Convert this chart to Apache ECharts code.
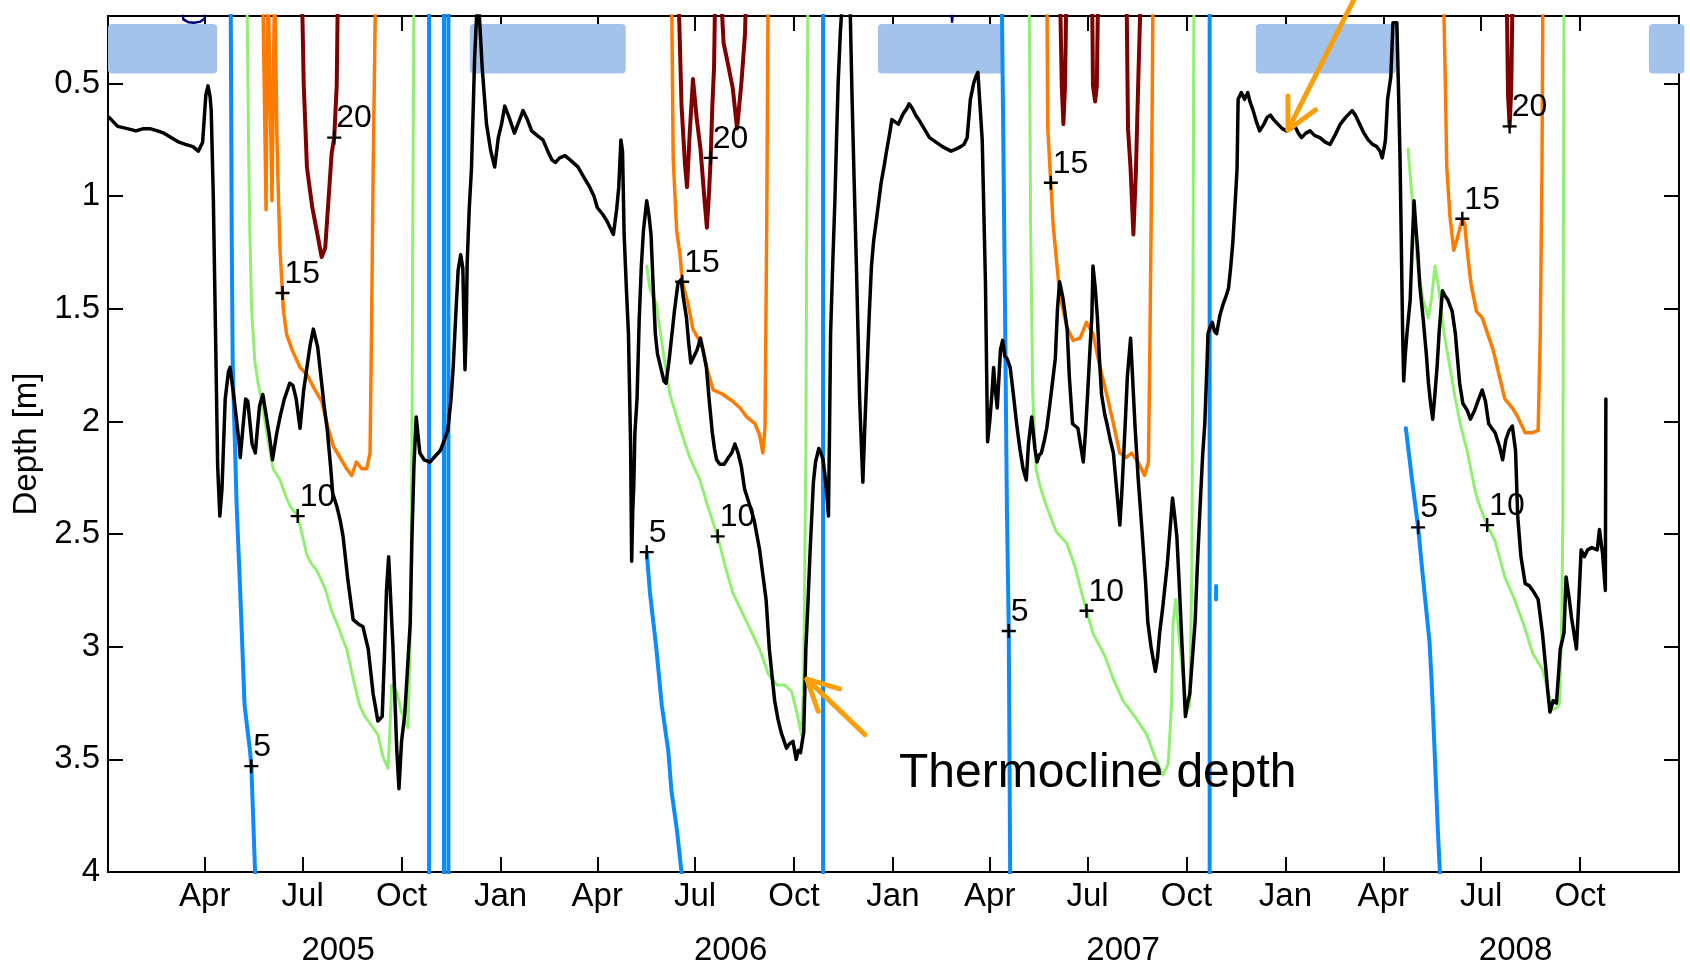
<!DOCTYPE html>
<html>
<head>
<meta charset="utf-8">
<script src="https://cdn.jsdelivr.net/npm/echarts@6/dist/echarts.min.js"></script>
<style>
  html, body { margin: 0; padding: 0; background: #fff; }
  #chart { width: 1690px; height: 973px; }
</style>
</head>
<body>
<div id="chart"></div>
<script>
// Time is counted in days since 1 Jan 2005; depth in metres (positive down).
const ORIGIN = Date.UTC(2005, 0, 1);
const DAY = 86400000;
const dayOf = s => (Date.parse(s + 'T00:00:00Z') - ORIGIN) / DAY;

const MONTH_NAMES = ['Jan','Feb','Mar','Apr','May','Jun','Jul','Aug','Sep','Oct','Nov','Dec'];
const monthTickDates = [
  '2005-04-01','2005-07-01','2005-10-01','2006-01-01',
  '2006-04-01','2006-07-01','2006-10-01','2007-01-01',
  '2007-04-01','2007-07-01','2007-10-01','2008-01-01',
  '2008-04-01','2008-07-01','2008-10-01'
];
const yearLabelDates = ['2005-08-03','2006-08-03','2007-08-03','2008-08-02'];
const depthTicks = [0.5, 1, 1.5, 2, 2.5, 3, 3.5, 4];

// Ice-covered periods [start day, end day], drawn as a band near the surface
const iceCover = [[0, 101.5], [336.5, 481.5], [716, 833], [1067.5, 1198], [1433, 1466]];
const ICE_TOP = 0.235, ICE_BOTTOM = 0.455;

// Thermocline depth [day, depth]
const thermocline = [
  [1,0.65],[9,0.69],[18,0.70],[26,0.71],[33,0.70],[39,0.70],[46,0.71],[52,0.72],[59,0.74],[66,0.76],[72,0.77],[79,0.78],[84,0.80],[88,0.76],[90,0.62],[91,0.55],[93,0.51],[95,0.56],[96,0.62],[98,1.02],[100,1.61],[102,2.20],[104,2.42],[106,2.30],[109,1.90],[112,1.78],[113.5,1.76],[116,1.85],[119,1.97],[122,2.10],[123,2.16],[126,2.00],[128,1.90],[130,1.91],[134,2.10],[137,2.14],[139,2.03],[141,1.93],[144,1.88],[147,1.97],[150,2.06],[153,2.17],[157,2.05],[160,1.98],[164,1.90],[169,1.83],[172,1.84],[175,1.90],[178.6,2.03],[182,1.86],[185,1.76],[188,1.66],[191,1.59],[195,1.67],[198,1.80],[201,1.93],[204,2.04],[207,2.20],[209,2.32],[213,2.38],[216,2.44],[218.6,2.51],[223,2.70],[228,2.88],[233,2.90],[237,2.91],[242,3.01],[246.6,3.21],[251,3.33],[255,3.31],[257,3.05],[259,2.75],[261,2.60],[263,2.80],[265,3.00],[268.6,3.46],[270.6,3.63],[273,3.42],[276,3.30],[278,3.14],[281,2.90],[282.7,2.51],[284.5,2.20],[286.6,1.98],[290,2.14],[294,2.17],[299.5,2.18],[305,2.15],[309,2.13],[313,2.08],[316,2.04],[319,1.90],[321,1.76],[323.5,1.52],[325.6,1.33],[328,1.26],[330,1.32],[331,1.55],[332,1.77],[333,1.62],[334,1.30],[336,1.05],[338,0.88],[340,0.55],[341,0.38],[343,0.18],[345,0.17],[348,0.43],[352,0.68],[356,0.80],[359.6,0.87],[363,0.74],[366,0.68],[369,0.60],[373,0.65],[378,0.72],[382,0.67],[386,0.62],[390,0.66],[394,0.71],[399,0.73],[404.5,0.75],[409,0.80],[413,0.84],[416,0.85],[420,0.83],[425,0.82],[430,0.84],[437,0.87],[443,0.92],[448,0.96],[452,1.00],[455,1.05],[460,1.08],[464,1.11],[468,1.15],[470,1.17],[473,1.06],[475,0.96],[477,0.75],[478.5,0.80],[480,1.17],[482,1.40],[484,1.61],[486,2.10],[487,2.62],[488,2.40],[489,2.28],[490,2.05],[492,1.90],[494,1.55],[496,1.31],[498,1.15],[501,1.02],[503,1.08],[505,1.17],[507,1.40],[509,1.61],[511,1.70],[514,1.76],[517,1.82],[519,1.83],[522,1.72],[524.5,1.61],[527,1.50],[530,1.39],[533,1.37],[535,1.45],[538,1.54],[540,1.65],[542,1.74],[545,1.71],[548,1.68],[551,1.63],[554,1.70],[556.5,1.76],[559,1.90],[562,2.05],[564,2.12],[566,2.17],[569,2.19],[573,2.19],[577,2.16],[580,2.14],[583,2.10],[586,2.14],[589,2.20],[592,2.30],[596,2.36],[601,2.44],[606,2.57],[609,2.68],[612,2.79],[615,3.01],[618,3.15],[620,3.24],[623,3.32],[626,3.38],[631,3.45],[634,3.43],[637,3.42],[640,3.50],[642,3.46],[644,3.47],[647,3.38],[648,3.20],[649,3.01],[651,2.80],[653,2.57],[656,2.27],[658,2.18],[661,2.12],[663,2.14],[665,2.17],[667,2.25],[669,2.35],[670,2.42],[671,2.05],[672,1.61],[674,1.30],[676,1.02],[677.5,0.75],[679,0.50],[681,0.28],[683,0.12],[690,0.12],[692,0.57],[694,0.95],[696,1.31],[699,1.90],[701,2.15],[702,2.27],[704,2.00],[706,1.76],[708,1.52],[710,1.31],[712,1.20],[715,1.09],[719,0.94],[722,0.86],[724,0.80],[727,0.72],[729,0.66],[732,0.67],[735,0.68],[738,0.65],[740,0.63],[743,0.61],[745,0.59],[748,0.61],[751,0.64],[754,0.66],[759,0.70],[764,0.74],[770,0.76],[776,0.78],[780,0.79],[784,0.80],[789,0.79],[793,0.78],[796,0.77],[799,0.74],[802,0.57],[805,0.50],[807,0.47],[809,0.45],[811,0.60],[813,0.75],[815,1.17],[816,1.38],[818,2.09],[820,2.00],[822,1.88],[823.6,1.76],[825,1.85],[827,1.94],[830,1.68],[832,1.64],[834,1.71],[836,1.72],[839,1.76],[842,1.88],[845,2.01],[848,2.12],[851,2.21],[854,2.26],[856,2.10],[859,1.98],[862,2.12],[864,2.18],[866,2.15],[868,2.14],[871,2.08],[873,2.03],[876,1.92],[879,1.80],[881,1.72],[883,1.50],[885,1.38],[888,1.45],[892,1.59],[894,1.80],[897,2.01],[902,2.03],[905,2.12],[907,2.18],[909,2.05],[911,1.88],[913,1.70],[915,1.53],[916,1.31],[918,1.40],[920,1.53],[922,1.72],[924,1.88],[927,1.97],[929,2.01],[932,2.08],[935,2.14],[938,2.30],[941,2.46],[943,2.30],[946,2.01],[948,1.80],[951,1.63],[953,1.82],[955,2.01],[958,2.25],[962,2.51],[965,2.72],[967,2.89],[970,3.00],[974,3.11],[976,3.05],[978,2.94],[981,2.82],[985,2.64],[988,2.46],[990,2.34],[992,2.42],[994,2.51],[996,2.70],[999,3.01],[1002,3.31],[1004,3.25],[1006,3.21],[1008,3.08],[1011,2.89],[1013,2.65],[1015.6,2.38],[1018,2.15],[1020,2.01],[1022,1.75],[1023,1.61],[1025,1.58],[1027,1.56],[1029,1.60],[1031,1.61],[1034,1.53],[1037,1.48],[1040,1.44],[1042,1.41],[1044,1.32],[1046,1.21],[1048,1.05],[1050,0.88],[1051,0.57],[1053,0.55],[1054,0.54],[1057,0.57],[1060,0.54],[1062,0.58],[1065,0.62],[1068,0.67],[1071,0.71],[1075,0.68],[1078,0.65],[1081,0.64],[1084,0.66],[1088,0.68],[1092,0.70],[1096,0.71],[1100,0.70],[1104,0.69],[1107,0.72],[1110,0.74],[1114,0.72],[1118,0.71],[1122,0.73],[1127,0.74],[1132,0.76],[1136.5,0.77],[1141,0.73],[1146,0.68],[1151,0.65],[1157,0.62],[1160,0.64],[1164,0.68],[1168,0.72],[1172,0.75],[1176,0.77],[1180,0.78],[1183,0.80],[1185,0.83],[1187,0.78],[1188,0.75],[1190,0.57],[1193,0.47],[1195,0.23],[1198.6,0.23],[1200,0.50],[1201.6,0.84],[1202.6,1.16],[1204,1.61],[1205,1.82],[1206.5,1.70],[1208,1.61],[1211,1.46],[1213,1.20],[1214.6,1.02],[1216,1.12],[1218,1.24],[1220,1.40],[1223,1.54],[1226,1.70],[1228,1.83],[1230,1.92],[1232,1.99],[1234,1.88],[1236,1.76],[1238,1.60],[1241,1.42],[1243,1.44],[1246,1.46],[1250,1.51],[1253,1.61],[1255,1.72],[1257,1.83],[1260,1.92],[1264,1.95],[1267,1.99],[1271,1.95],[1274,1.91],[1278,1.86],[1281,1.91],[1284,2.01],[1287,2.03],[1290,2.05],[1294,2.11],[1297,2.17],[1300,2.08],[1303,2.04],[1306,2.02],[1309,2.13],[1311,2.42],[1314,2.60],[1318,2.72],[1322,2.73],[1325,2.75],[1330,2.79],[1334,2.94],[1337,3.09],[1339,3.20],[1341,3.29],[1344,3.24],[1347,3.25],[1349,3.12],[1350.6,3.01],[1354,2.94],[1356,2.69],[1359,2.79],[1361,2.87],[1364,2.96],[1365.6,3.01],[1368,2.78],[1370,2.57],[1373,2.60],[1376,2.57],[1380,2.56],[1385,2.57],[1387,2.48],[1390,2.59],[1392.5,2.75],[1393,1.90]
];

// Isotherm depths [day, depth]; 0 = reaches the surface, 4.5 = below the deepest sensor; null = gap
const isotherm5 = [
  [114,0],[115,1.13],[116,1.76],[119.7,2.38],[123,2.76],[127,3.26],[132,3.46],[133.3,3.53],[137,4.03],[138,4.5],
  [298.6,4.5],[298.6,0],[312.5,0],[312.5,4.5],[316.6,4.5],[316.6,0],
  null,
  [501,2.58],[504,2.76],[510,3.01],[515,3.26],[521,3.46],[524,3.64],[529,3.81],[534,4.03],[535,4.5],
  [665,4.5],[665,0],[831,0],[834,1.4],[836,2.4],[837.7,2.93],[839,4.0],[839.5,4.5],
  [1024.5,4.5],[1024.5,0],
  null,
  [1030.5,2.73],[1030.5,2.79],
  null,
  [1207,2.03],[1213,2.27],[1218.4,2.47],[1222,2.65],[1225.6,2.82],[1229,2.98],[1231,3.16],[1233,3.38],[1235,3.61],[1236.6,3.80],[1238.6,4.0],[1239,4.5]
];
const isotherm10 = [
  [129,0],[131,0.88],[132,1.18],[133.6,1.51],[136.7,1.74],[140,1.84],[143,1.91],[149,2.09],[153.6,2.21],[160,2.26],[166,2.34],[170,2.38],[176.4,2.42],[181,2.51],[184.8,2.59],[189,2.63],[194,2.66],[201.8,2.74],[208,2.84],[214,2.91],[222,3.01],[228,3.14],[234,3.26],[239,3.31],[243.7,3.34],[251,3.39],[255.8,3.49],[260.5,3.54],[262,3.39],[263.8,3.17],[268.5,3.20],[273,3.29],[279,3.36],[281.5,2.89],[282.7,2.01],[283.7,0.88],[284.6,0],
  null,
  [501,1.31],[504,1.41],[510,1.48],[516,1.68],[522.6,1.88],[532,2.03],[541,2.16],[550.6,2.26],[558,2.38],[567,2.51],[573.8,2.64],[581,2.76],[594,2.89],[606,3.01],[614,3.12],[622,3.17],[629.6,3.17],[636,3.20],[640.5,3.29],[645,3.39],[647,3.14],[649,2.14],[650,0.88],[651,0],
  [856.6,0],[858,1.13],[860,1.88],[863,2.21],[867,2.29],[873,2.38],[882,2.49],[891.6,2.54],[899,2.64],[905.5,2.76],[910,2.84],[916,2.94],[927,3.04],[934.7,3.14],[944,3.24],[955,3.31],[966,3.39],[973.7,3.49],[981,3.57],[986,3.52],[989,3.26],[990.5,2.89],[993,2.79],[996,2.95],[1000,3.14],[1003,3.29],[1006,3.26],[1008,2.64],[1009,1.38],[1010,0],
  null,
  [1209,0.79],[1213,1.02],[1218,1.31],[1223,1.46],[1228,1.54],[1231,1.45],[1234,1.31],[1237,1.39],[1242.6,1.61],[1248,1.76],[1253,1.90],[1258,2.02],[1264,2.13],[1269,2.25],[1272,2.32],[1276,2.38],[1282.6,2.46],[1290,2.53],[1299,2.69],[1308,2.79],[1316.5,2.90],[1325,3.03],[1334,3.10],[1339,3.19],[1342.5,3.28],[1347.6,3.27],[1350,3.25],[1352,2.87],[1353,2.42],[1354,0]
];
const isotherm15 = [
  [143.7,0],[147,1.06],[148.7,0],[150.5,0],[152.5,1.02],[155,0],[156.5,0],[157,0.72],[158.6,1.02],[160,1.24],[162.3,1.43],[163,1.50],[166,1.61],[171,1.68],[178.6,1.76],[184.8,1.79],[192.5,1.86],[198.7,1.91],[204.8,2.03],[209.6,2.11],[215.8,2.16],[222,2.21],[226.6,2.24],[231,2.18],[236,2.21],[240.6,2.21],[243.7,2.14],[245,1.63],[246.6,0.88],[248,0.38],[249,0],
  [524,0],[525.6,0.83],[528.8,1.15],[532,1.26],[534,1.38],[539.6,1.48],[544,1.59],[548.7,1.63],[553.4,1.68],[556.8,1.76],[562.8,1.86],[572,1.88],[581,1.91],[587.8,1.94],[594,1.98],[601.7,2.01],[606,2.06],[609,2.14],[611,2.03],[612.6,1.13],[614,0],
  [873,0],[874,0.70],[876.8,0.94],[879,1.13],[882,1.28],[885,1.43],[891.6,1.58],[897.6,1.64],[904,1.63],[910,1.56],[916,1.61],[922.6,1.76],[928.8,1.88],[935,2.01],[941,2.14],[947,2.16],[952,2.14],[958,2.18],[964,2.24],[967.6,2.18],[969,1.63],[970.6,0.88],[972,0],
  [1241.6,0],[1244,0.57],[1245,0.87],[1248,1.09],[1251.5,1.24],[1254.6,1.19],[1259.5,1.10],[1261.7,1.12],[1264,1.24],[1267.6,1.39],[1272.6,1.51],[1278,1.54],[1283,1.61],[1288,1.68],[1294,1.80],[1299,1.90],[1306,1.94],[1311,1.98],[1318,2.05],[1325,2.05],[1330,2.04],[1332,1.61],[1333.6,0.87],[1334.5,0]
];
const isotherm20 = [
  [180,0],[182,0.50],[185,0.87],[188,0.98],[190,1.05],[194,1.15],[198.7,1.27],[202,1.23],[205,1.02],[208,0.81],[210.4,0.74],[212.7,0.51],[214,0],
  [530,0],[533.4,0.60],[536.6,0.86],[538.5,0.96],[541,0.72],[544,0.48],[547.6,0.66],[551,0.79],[554.8,1.02],[557,1.14],[559,0.98],[560.5,0.83],[562,0.60],[563.6,0.43],[565,0],[569,0],[572.5,0.32],[576,0.40],[581,0.52],[585,0.70],[589,0.50],[592.4,0.28],[594,0],
  [885,0],[887,0.51],[888.5,0.68],[890,0.51],[891.6,0],
  [915,0],[916,0.51],[918,0.58],[919.6,0.51],[921,0],
  [947,0],[948.6,0.70],[951,0.88],[953.6,1.17],[956,0.88],[958,0.51],[961,0],
  [1300.5,0],[1302,0.55],[1303.5,0.69],[1305,0.52],[1306.5,0]
];
const isotherm25 = [
  [67,0],[70,0.215],[75,0.228],[80,0.23],[86,0.225],[90,0.21],[92,0],
  null,
  [782,0],[785,0.225],[788,0]
];

// Contour labels: [day, depth, temperature]
const contourLabels = [
  [133.3,3.53,'5'],[176.4,2.42,'10'],[162.3,1.43,'15'],[210.4,0.74,'20'],
  [501,2.58,'5'],[567,2.51,'10'],[534,1.38,'15'],[560.5,0.83,'20'],
  [837.7,2.93,'5'],[910,2.84,'10'],[876.8,0.94,'15'],
  [1218.4,2.47,'5'],[1282.6,2.46,'10'],[1259.5,1.10,'15'],[1303.5,0.69,'20']
];

// Annotation arrows: [tail day, tail depth, tip day, tip depth]
const arrows = [[704, 3.39, 650, 3.144], [1161.6, 0.10, 1097.4, 0.706]];
const noteText = 'Thermocline depth';
const notePosition = [735.6, 3.566];

const FONT = '"Liberation Sans", Arial, Helvetica, sans-serif';
const DAYS_TOTAL = dayOf('2009-01-01');
const monthTickDays = monthTickDates.map(dayOf);
const yearLabelDays = yearLabelDates.map(dayOf);
const dateOfDay = d => new Date(ORIGIN + Math.round(d) * DAY);

function segments(points) {
  const out = [[]];
  points.forEach(p => { if (p === null) out.push([]); else out[out.length - 1].push(p); });
  return out.filter(s => s.length);
}
function lineSeries(points, color, width, z) {
  return segments(points).map(seg => ({
    type: 'line', data: seg, xAxisIndex: 0, yAxisIndex: 0,
    symbol: 'none', showSymbol: false, silent: true, clip: true, z: z,
    lineStyle: { color: color, width: width, join: 'round', cap: 'round' }
  }));
}

const axisLineStyle = { color: '#000', width: 2 };
const baseX = { type: 'value', min: 0, max: DAYS_TOTAL, splitLine: { show: false } };
const baseY = { type: 'value', inverse: true, min: 0.2, max: 4, splitLine: { show: false } };

const chart = echarts.init(document.getElementById('chart'), null, { renderer: 'canvas' });
chart.setOption({
  animation: false,
  backgroundColor: '#fff',
  grid: { left: 108, right: 11, top: 16, bottom: 101, containLabel: false },
  xAxis: [
    Object.assign({}, baseX, {
      position: 'bottom',
      axisLine: { show: true, onZero: false, lineStyle: axisLineStyle },
      axisTick: { show: true, inside: true, length: 15, customValues: monthTickDays, lineStyle: axisLineStyle },
      axisLabel: {
        show: true, customValues: monthTickDays, margin: 8,
        formatter: v => MONTH_NAMES[dateOfDay(v).getUTCMonth()],
        color: '#000', fontSize: 33, fontFamily: FONT
      }
    }),
    Object.assign({}, baseX, {
      position: 'bottom',
      axisLine: { show: false, onZero: false },
      axisTick: { show: false },
      axisLabel: {
        show: true, customValues: yearLabelDays, margin: 62,
        formatter: v => String(dateOfDay(v).getUTCFullYear()),
        color: '#000', fontSize: 33, fontFamily: FONT
      }
    }),
    Object.assign({}, baseX, {
      position: 'top',
      axisLine: { show: true, onZero: false, lineStyle: axisLineStyle },
      axisTick: { show: true, inside: true, length: 15, customValues: monthTickDays, lineStyle: axisLineStyle },
      axisLabel: { show: false }
    })
  ],
  yAxis: [
    Object.assign({}, baseY, {
      position: 'left',
      name: 'Depth [m]', nameLocation: 'middle', nameGap: 62, nameRotate: 90,
      nameTextStyle: { color: '#000', fontSize: 33, fontFamily: FONT },
      axisLine: { show: true, onZero: false, lineStyle: axisLineStyle },
      axisTick: { show: true, inside: true, length: 15, customValues: depthTicks, lineStyle: axisLineStyle },
      axisLabel: { show: true, customValues: depthTicks, margin: 8, color: '#000', fontSize: 33, fontFamily: FONT }
    }),
    Object.assign({}, baseY, {
      position: 'right',
      axisLine: { show: true, onZero: false, lineStyle: axisLineStyle },
      axisTick: { show: true, inside: true, length: 15, customValues: depthTicks, lineStyle: axisLineStyle },
      axisLabel: { show: false }
    })
  ],
  series: [
    {
      type: 'custom', xAxisIndex: 0, yAxisIndex: 0, clip: false, silent: true, z: 1,
      data: iceCover,
      renderItem: (params, api) => {
        const p0 = api.coord([api.value(0), ICE_TOP]);
        const p1 = api.coord([api.value(1), ICE_BOTTOM]);
        return {
          type: 'rect',
          shape: { x: p0[0], y: p0[1], width: p1[0] - p0[0], height: p1[1] - p0[1], r: 4 },
          style: { fill: '#a4c3ec' }
        };
      }
    },
    ...lineSeries(isotherm25, '#000080', 2.5, 2),
    ...lineSeries(isotherm20, '#800000', 4, 2),
    ...lineSeries(isotherm15, '#ff7b00', 3.5, 2),
    ...lineSeries(isotherm10, '#90f070', 3, 2),
    ...lineSeries(isotherm5, '#0a8cff', 4, 2),
    ...lineSeries(thermocline, '#000', 3.5, 3),
    {
      type: 'scatter', xAxisIndex: 0, yAxisIndex: 0, silent: true, z: 4,
      data: contourLabels.map(p => ({ value: [p[0], p[1]], name: p[2] })),
      symbol: 'path://M5.8,0H8.2V5.8H14V8.2H8.2V14H5.8V8.2H0V5.8H5.8Z', symbolSize: 14,
      itemStyle: { color: '#000', opacity: 1 },
      label: {
        show: true, formatter: p => p.name, position: [9, -12],
        align: 'left', verticalAlign: 'middle', opacity: 1,
        color: '#000', fontSize: 32, fontFamily: FONT, textBorderWidth: 0
      }
    },
    {
      type: 'custom', xAxisIndex: 0, yAxisIndex: 0, clip: false, silent: true, z: 6,
      data: arrows,
      renderItem: (params, api) => {
        const tail = api.coord([api.value(0), api.value(1)]);
        const tip = api.coord([api.value(2), api.value(3)]);
        const ang = Math.atan2(tail[1] - tip[1], tail[0] - tip[0]);
        const L = 34, spread = 27 * Math.PI / 180;
        const a1 = [tip[0] + L * Math.cos(ang + spread), tip[1] + L * Math.sin(ang + spread)];
        const a2 = [tip[0] + L * Math.cos(ang - spread), tip[1] + L * Math.sin(ang - spread)];
        const stroke = { stroke: '#fa9f0a', lineWidth: 5, lineCap: 'round', lineJoin: 'round', fill: null };
        return {
          type: 'group',
          children: [
            { type: 'line', shape: { x1: tail[0], y1: tail[1], x2: tip[0], y2: tip[1] }, style: stroke },
            { type: 'polyline', shape: { points: [a1, tip, a2] }, style: stroke }
          ]
        };
      }
    },
    {
      type: 'custom', xAxisIndex: 0, yAxisIndex: 0, clip: false, silent: true, z: 7,
      data: [notePosition],
      renderItem: (params, api) => {
        const p = api.coord([api.value(0), api.value(1)]);
        return {
          type: 'text', x: p[0], y: p[1],
          style: { text: noteText, fill: '#000', fontSize: 48, fontFamily: FONT, align: 'left', verticalAlign: 'middle' }
        };
      }
    }
  ]
});
</script>
</body>
</html>
